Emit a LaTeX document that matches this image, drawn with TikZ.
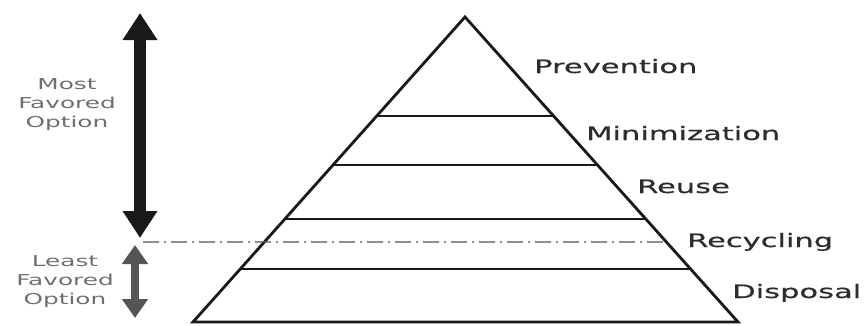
\documentclass[tikz,border=0pt]{standalone}
\usepackage{fontspec}
\usetikzlibrary{arrows.meta,calc}
\newfontfamily\labelfont[FakeStretch=1.65,FakeBold=0.6]{DejaVu Sans}
\newfontfamily\sidefont[FakeStretch=1.65]{DejaVu Sans}
\definecolor{pyrblack}{RGB}{25,25,25}
\definecolor{pyrgray}{RGB}{85,85,85}
\definecolor{pyrtext}{RGB}{45,45,45}

\begin{document}
\begin{tikzpicture}[
    x=1pt, y=1pt,
    edge/.style={line width=2.8pt, pyrblack, line join=miter},
    layer/.style={line width=2.3pt, pyrblack},
    level/.style={font=\labelfont\fontsize{18.5}{20}\selectfont, text=pyrtext, anchor=base west, inner sep=0pt},
    side/.style={font=\sidefont\fontsize{15}{19}\selectfont, text=pyrgray!85, align=center, inner sep=0pt},
    split/.style={line width=1.3pt, pyrgray, dash pattern=on 16pt off 5pt on 2pt off 5pt}
]
\useasboundingbox (0,0) rectangle (864,325);

% Pyramid.
\coordinate (base-l) at (193,3);
\coordinate (base-r) at (738,3);
\coordinate (apex) at (465,308);
\draw[edge] (base-l) -- (apex) -- (base-r) -- cycle;
\foreach \t in {0.174,0.338,0.515,0.675}
    \draw[layer] ($(base-l)!\t!(apex)$) -- ($(base-r)!\t!(apex)$);

% Level labels.
\foreach \name/\x/\y in {Prevention/534/252,Minimization/586/185,Reuse/637/132,Recycling/687/78,Disposal/732/27}
    \node[level] (\name) at (\x,\y) {\name};

% Dividing line.
\coordinate (split-l) at (143,83);
\coordinate (split-r) at ($(base-r)!0.262!(apex)$);
\draw[split] (split-l) -- (split-r);

% Preference arrows.
\coordinate (most-top) at (140,312);
\coordinate (most-bot) at (140,87);
\draw[line width=12pt, pyrblack, {Triangle[width=33pt,length=27pt]}-{Triangle[width=33pt,length=27pt]}] (most-top) -- (most-bot);
\coordinate (least-top) at (135,80);
\coordinate (least-bot) at (135,7);
\draw[line width=8pt, pyrgray, {Triangle[width=25pt,length=19pt]}-{Triangle[width=25pt,length=19pt]}] (least-top) -- (least-bot);

\node[side] (most) at (67,220) {Most\\Favored\\Option};
\node[side] (least) at (65,43) {Least\\Favored\\Option};

\end{tikzpicture}
\end{document}
